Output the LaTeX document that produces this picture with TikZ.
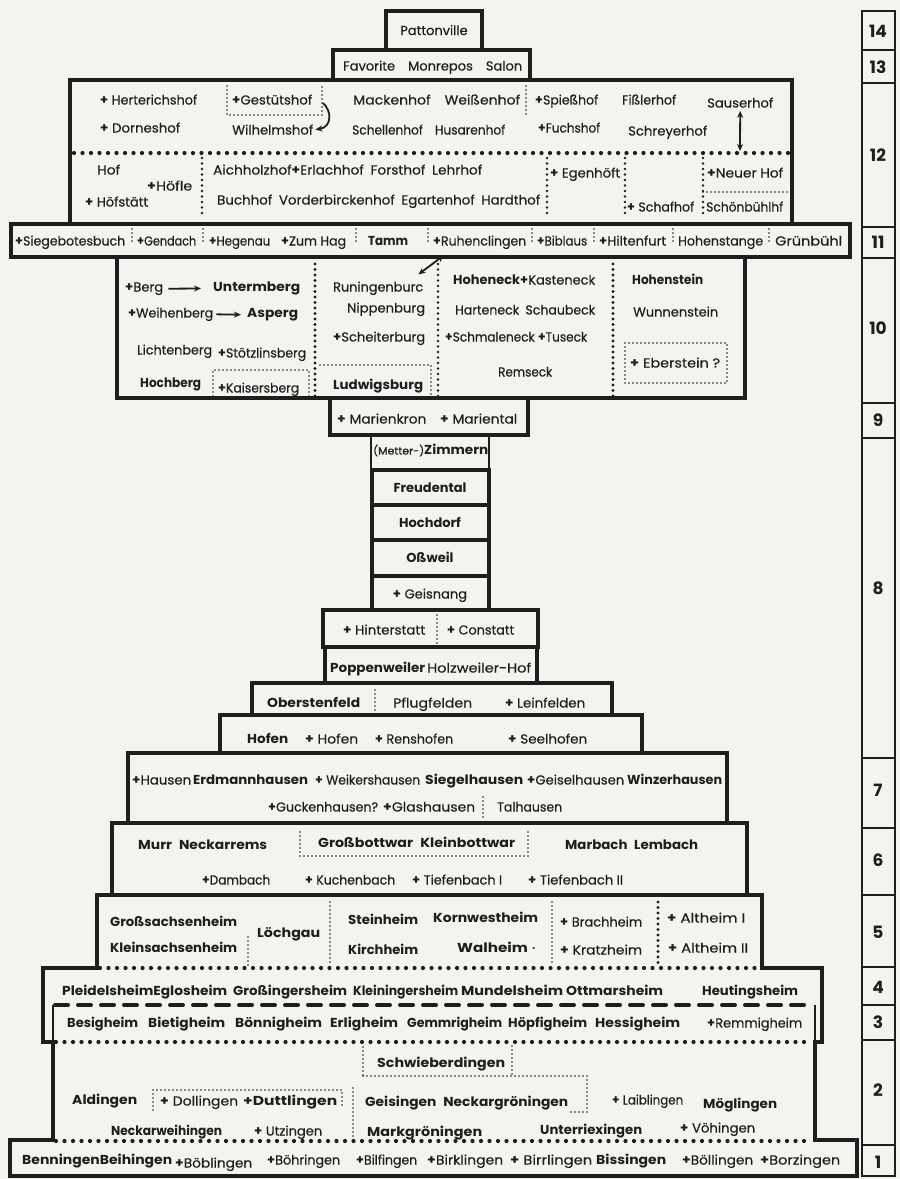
\documentclass[tikz,border=0pt]{standalone}
\usepackage{fontspec}
\setmainfont{Poppins}[UprightFeatures={FakeBold=0.4}]
\usepackage{graphicx}
\usetikzlibrary{arrows.meta}
\definecolor{paper}{RGB}{243,243,239}
\definecolor{ink}{RGB}{30,30,30}
\newcommand\wst{\textbf{+}}
\newcommand\tx[6][]{\node[txt,#1] (#2) at (#3,{#5+4.5}) {\resizebox{\dimexpr #4pt-#3pt\relax}{\height}{#6}};}
\tikzset{
 outl/.style={line width=4pt, draw=ink, line join=miter},
 thinl/.style={line width=1.8pt, draw=ink},
 colline/.style={line width=1.8pt, draw=ink},
 bigdots/.style={line width=4.2pt, draw=ink, line cap=round, dash pattern=on 0pt off 8.5pt},
 densedots/.style={line width=3.4pt, draw=ink, line cap=round, dash pattern=on 0pt off 5.5pt},
 middots/.style={line width=2.6pt, draw=ink, line cap=round, dash pattern=on 0pt off 5.5pt},
 smalldots/.style={line width=1.8pt, draw=ink, line cap=round, dash pattern=on 0pt off 4pt},
 bigdash/.style={line width=4pt, draw=ink, line cap=round, dash pattern=on 13pt off 10pt},
 txt/.style={anchor=base west, inner sep=0pt, text=ink, font=\fontsize{13}{15}\selectfont},
 ctxt/.style={anchor=base, inner sep=0pt, text=ink, font=\fontsize{13}{15}\selectfont},
 num/.style={anchor=center, inner sep=0pt, text=ink, font=\fontsize{17}{19}\selectfont\bfseries},
 arr/.style={line width=1.8pt, draw=ink, -{Stealth[length=7pt,width=6pt]}},
 dblarr/.style={line width=1.8pt, draw=ink, {Stealth[length=7pt,width=6pt]}-{Stealth[length=7pt,width=6pt]}},
}
\begin{document}
\begin{tikzpicture}[x=1pt,y=-1pt]
\fill[paper] (0,0) rectangle (900,1179);
\useasboundingbox (0,0) rectangle (900,1179);

% ---------- right column ----------
\draw[colline] (862,11) rectangle (895,1176);
\foreach \s in {50,83,227,258,403,438,758,828,895,967,1005,1040,1145}
  \draw[colline] (862,\s) -- (895,\s);
\node[num] (n14) at (878,31) {14};
\node[num] (n13) at (878,67) {13};
\node[num] (n12) at (878,155) {12};
\node[num] (n11) at (878,242) {11};
\node[num] (n10) at (878,328) {10};
\node[num] (n9) at (878,420) {9};
\node[num] (n8) at (878,588) {8};
\node[num] (n7) at (878,790) {7};
\node[num] (n6) at (878,860) {6};
\node[num] (n5) at (878,932) {5};
\node[num] (n4) at (878,987) {4};
\node[num] (n3) at (878,1022) {3};
\node[num] (n2) at (878,1090) {2};
\node[num] (n1) at (878,1162) {1};

% ---------- boxes ----------
\draw[outl] (386,11) rectangle (482,50);
\draw[outl] (333,50) rectangle (530,80);
\draw[outl] (70,80) rectangle (792,224);
\draw[outl] (11,224) rectangle (850,257);
\draw[outl] (117,257) rectangle (745,398);
\draw[outl] (330,398) rectangle (528,435);
\draw[thinl] (371,435) rectangle (489,470);
\draw[outl] (372,470) rectangle (489,610);
\draw[outl] (372,505) -- (489,505);
\draw[outl] (372,540) -- (489,540);
\draw[outl] (372,576) -- (489,576);
\draw[outl] (323,610) rectangle (538,647);
\draw[outl] (325,647) rectangle (537,683);
\draw[outl] (252,683) rectangle (612,715);
\draw[outl] (220,715) rectangle (642,753);
\draw[outl] (128,753) rectangle (727,823);
\draw[outl] (112,823) rectangle (747,895);
\draw[outl] (97,968) -- (97,895) -- (762,895) -- (762,968) -- (822,968) -- (822,1042)
  -- (815,1042) -- (815,1140) -- (857,1140) -- (857,1176) -- (10,1176) -- (10,1140)
  -- (53,1140) -- (53,1042) -- (43,1042) -- (43,968) -- cycle;
\draw[line width=2.6pt,draw=ink] (53,1005) -- (53,1042);
\draw[line width=2.6pt,draw=ink] (815,1005) -- (815,1042);

% ---------- separators ----------
\draw[bigdots] (74,153) -- (790,153);
\draw[bigdots] (100,968) -- (760,968);
\draw[bigdash] (55,1005) -- (810,1005);
\draw[bigdots] (56,1042) -- (812,1042);
\draw[bigdots] (56,1141) -- (812,1141);

% ---------- row 12 lines ----------
\draw[smalldots] (526,86) -- (526,117);
\draw[smalldots] (227,86) -- (227,115) -- (322,115) -- (322,86);
\draw[middots] (202,158) -- (202,218);
\draw[middots] (547,158) -- (547,218);
\draw[middots] (625,158) -- (625,218);
\draw[middots] (703,158) -- (703,218);
\draw[smalldots] (703,192) -- (789,192);

% ---------- row 11 marks ----------
\foreach \m in {132,203,356,428,532,594,673,769}
  \draw[smalldots] (\m,229) -- (\m,241);

% ---------- row 10 lines ----------
\draw[densedots] (315,264) -- (315,396);
\draw[middots] (438,264) -- (438,396);
\draw[densedots] (613,264) -- (613,396);
\draw[smalldots] (213,396) -- (213,370) -- (309,370) -- (309,396);
\draw[smalldots] (320,365) -- (431,365) -- (431,396);
\draw[smalldots] (625,343) rectangle (727,383);

% ---------- middle lines ----------
\draw[smalldots] (437,615) -- (437,644);
\draw[smalldots] (375,690) -- (375,712);
\draw[smalldots] (483,797) -- (483,817);
\draw[smalldots] (300,832) -- (300,856) -- (528,856) -- (528,832);
\draw[smalldots] (248,937) -- (248,965);
\draw[smalldots] (330,902) -- (330,964);
\draw[smalldots] (552,902) -- (552,962);
\draw[densedots] (658,902) -- (658,964);

% ---------- row 2 lines ----------
\draw[smalldots] (363,1047) -- (363,1075);
\draw[smalldots] (512,1046) -- (512,1075);
\draw[smalldots] (363,1076) -- (587,1076) -- (587,1112) -- (568,1112);
\draw[smalldots] (153,1110) -- (153,1090) -- (342,1090) -- (342,1105);
\draw[smalldots] (353,1088) -- (353,1138);

% ---------- texts ----------
\node[ctxt] (pat) at (434,35) {Pattonville};
\tx{fav}{343}{522}{66}{Favorite\quad Monrepos\quad Salon}

\tx{herter}{100}{197}{100}{\wst\ Herterichshof}
\tx{gest}{232}{312}{100}{\wst Gestütshof}
\tx{mack}{353}{520}{100}{Mackenhof\quad Weißenhof}
\tx{spiess}{535}{598}{100}{\wst Spießhof}
\tx{fissl}{622}{676}{100}{Fißlerhof}
\tx{sauser}{707}{773}{103}{Sauserhof}
\tx{dorn}{100}{180}{128}{\wst\ Dorneshof}
\tx{wilh}{232}{313}{130}{Wilhelmshof}
\tx{schell}{352}{505}{130}{Schellenhof\quad Husarenhof}
\tx{fuchs}{538}{600}{128}{\wst Fuchshof}
\tx{schrey}{628}{707}{131}{Schreyerhof}
\tx{hof}{97}{120}{170}{Hof}
\tx{hoefle}{147}{192}{186}{\wst Höfle}
\tx{hoefst}{85}{148}{202}{\wst\ Höfstätt}
\tx{aich}{213}{482}{170}{Aichholzhof\wst Erlachhof\enspace Forsthof\enspace Lehrhof}
\tx{buch}{217}{540}{200}{Buchhof\enspace Vorderbirckenhof\enspace Egartenhof\enspace Hardthof}
\tx{egen}{550}{620}{173}{\wst\ Egenhöft}
\tx{neuer}{707}{783}{173}{\wst Neuer Hof}
\tx{schaf}{627}{694}{207}{\wst\ Schafhof}
\tx{schoen}{706}{783}{207}{Schönbühlhf}

\tx{sieg}{15}{125}{241}{\wst Siegebotesbuch}
\tx{gend}{137}{196}{241}{\wst Gendach}
\tx{hege}{209}{270}{241}{\wst Hegenau}
\tx{zum}{281}{346}{241}{\wst Zum Hag}
\tx{tamm}{368}{408}{241}{\textbf{Tamm}}
\tx{ruhen}{433}{526}{241}{\wst Ruhenclingen}
\tx{bibl}{537}{587}{241}{\wst Biblaus}
\tx{hilt}{599}{666}{241}{\wst Hiltenfurt}
\tx{hohst}{678}{763}{241}{Hohenstange}
\tx{gruen}{775}{842}{241}{Grünbühl}

\tx{berg}{125}{163}{287}{\wst Berg}
\tx{unter}{213}{300}{287}{\textbf{Untermberg}}
\tx{runing}{333}{423}{287}{Runingenburc}
\tx{weih}{128}{213}{313}{\wst Weihenberg}
\tx{asp}{247}{298}{313}{\textbf{Asperg}}
\tx{nipp}{347}{425}{308}{Nippenburg}
\tx{licht}{137}{212}{350}{Lichtenberg}
\tx{stoetz}{218}{306}{353}{\wst Stötzlinsberg}
\tx{scheit}{333}{425}{337}{\wst Scheiterburg}
\tx{hochb}{140}{201}{383}{\textbf{Hochberg}}
\tx{kais}{218}{299}{388}{\wst Kaisersberg}
\tx{ludw}{333}{423}{385}{\textbf{Ludwigsburg}}
\tx{hohen}{453}{595}{280}{\textbf{Hoheneck}\wst Kasteneck}
\tx{hart}{455}{595}{310}{Harteneck\enspace Schaubeck}
\tx{schmal}{445}{587}{337}{\wst Schmaleneck \wst Tuseck}
\tx{rems}{498}{552}{372}{Remseck}
\tx{hstein}{632}{703}{280}{\textbf{Hohenstein}}
\tx{wunn}{633}{718}{312}{Wunnenstein}
\tx{eber}{630}{720}{363}{\wst\ Eberstein ?}

\tx{marien}{337}{517}{419}{\wst\ Marienkron\quad\wst\ Mariental}
\tx{zimm}{373}{488}{450}{{\fontsize{10.5}{12}\selectfont(Metter-)}\textbf{Zimmern}}
\node[ctxt,font=\fontsize{13}{15}\selectfont\bfseries] (freud) at (430,492.5) {Freudental};
\node[ctxt,font=\fontsize{13}{15}\selectfont\bfseries] (hochd) at (430,527.5) {Hochdorf};
\node[ctxt,font=\fontsize{13}{15}\selectfont\bfseries] (ossw) at (430,562.5) {Oßweil};
\node[ctxt] (geisn) at (430,598.5) {\wst\ Geisnang};
\tx{hinter}{343}{425}{630}{\wst\ Hinterstatt}
\tx{const}{447}{514}{630}{\wst\ Constatt}
\tx{poppen}{330}{425}{668}{\textbf{Poppenweiler}}
\tx{holzw}{427}{531}{668}{Holzweiler-Hof}
\tx{oberst}{267}{360}{703}{\textbf{Oberstenfeld}}
\tx{pflug}{393}{472}{703}{Pflugfelden}
\tx{leinf}{505}{585}{703}{\wst\ Leinfelden}
\tx{hofenb}{247}{288}{739}{\textbf{Hofen}}
\tx{hofen}{305}{358}{739}{\wst\ Hofen}
\tx{rensh}{375}{453}{739}{\wst\ Renshofen}
\tx{seelh}{508}{587}{739}{\wst\ Seelhofen}

\tx{hausen}{132}{191}{780}{\wst Hausen}
\tx{erdm}{193}{308}{780}{\textbf{Erdmannhausen}}
\tx{weik}{315}{420}{780}{\wst\ Weikershausen}
\tx{siegel}{425}{523}{780}{\textbf{Siegelhausen}}
\tx{geisel}{527}{624}{780}{\wst Geiselhausen}
\tx{winz}{627}{722}{780}{\textbf{Winzerhausen}}
\tx{guck}{268}{378}{807}{\wst Guckenhausen?}
\tx{glas}{383}{475}{807}{\wst Glashausen}
\tx{talh}{497}{562}{807}{Talhausen}

\tx{murr}{138}{267}{845}{\textbf{Murr\enspace Neckarrems}}
\tx{grossb}{318}{515}{843}{\textbf{Großbottwar\enspace Kleinbottwar}}
\tx{marb}{565}{698}{845}{\textbf{Marbach\enspace Lembach}}
\tx{damb}{202}{270}{880}{\wst Dambach}
\tx{kuch}{305}{395}{880}{\wst\ Kuchenbach}
\tx{tief1}{412}{502}{880}{\wst\ Tiefenbach I}
\tx{tief2}{528}{623}{880}{\wst\ Tiefenbach II}

\tx{grsach}{110}{237}{922}{\textbf{Großsachsenheim}}
\tx{klsach}{110}{237}{948}{\textbf{Kleinsachsenheim}}
\tx{loech}{257}{320}{933}{\textbf{Löchgau}}
\tx{stein}{348}{418}{920}{\textbf{Steinheim}}
\tx{kirch}{348}{418}{950}{\textbf{Kirchheim}}
\tx{kornw}{433}{538}{918}{\textbf{Kornwestheim}}
\tx{walh}{457}{535}{948}{\textbf{Walheim}\ ·}
\tx{brach}{560}{642}{922}{\wst\ Brachheim}
\tx{kratz}{560}{642}{950}{\wst\ Kratzheim}
\tx{alt1}{667}{745}{918}{\wst\ Altheim I}
\tx{alt2}{668}{748}{948}{\wst\ Altheim II}

\tx{pleid}{62}{227}{991}{\textbf{PleidelsheimEglosheim}}
\tx{grossi}{233}{347}{991}{\textbf{Großingersheim}}
\tx{kleini}{353}{458}{991}{\textbf{Kleiningersheim}}
\tx{mund}{461}{563}{991}{\textbf{Mundelsheim}}
\tx{ottm}{566}{663}{991}{\textbf{Ottmarsheim}}
\tx{heut}{702}{798}{991}{\textbf{Heutingsheim}}

\tx{besig}{67}{138}{1023}{\textbf{Besigheim}}
\tx{bietig}{148}{225}{1023}{\textbf{Bietigheim}}
\tx{boenn}{235}{322}{1023}{\textbf{Bönnigheim}}
\tx{erlig}{330}{398}{1023}{\textbf{Erligheim}}
\tx{gemm}{407}{502}{1023}{\textbf{Gemmrigheim}}
\tx{hoepf}{508}{587}{1023}{\textbf{Höpfigheim}}
\tx{hessig}{595}{680}{1023}{\textbf{Hessigheim}}
\tx{remm}{707}{802}{1023}{\wst Remmigheim}

\tx{schwieb}{377}{505}{1063}{\textbf{Schwieberdingen}}
\tx{ald}{72}{137}{1100}{\textbf{Aldingen}}
\tx{doll}{160}{238}{1101}{\wst\ Dollingen}
\tx{dutt}{243}{337}{1101}{\wst\textbf{Duttlingen}}
\tx{geis}{365}{568}{1102}{\textbf{Geisingen\enspace Neckargröningen}}
\tx{laib}{612}{683}{1100}{\wst\ Laiblingen}
\tx{moeg}{703}{777}{1104}{\textbf{Möglingen}}
\tx{neckw}{111}{222}{1131}{\textbf{Neckarweihingen}}
\tx{utz}{254}{322}{1131}{\wst\ Utzingen}
\tx{markg}{367}{482}{1132}{\textbf{Markgröningen}}
\tx{unterr}{540}{642}{1130}{\textbf{Unterriexingen}}
\tx{voeh}{680}{755}{1128}{\wst\ Vöhingen}

\tx{benn}{22}{172}{1160}{\textbf{BenningenBeihingen}}
\tx{boebl}{175}{252}{1163}{\wst Böblingen}
\tx{boehr}{267}{340}{1160}{\wst Böhringen}
\tx{bilf}{356}{417}{1160}{\wst Bilfingen}
\tx{birk}{427}{503}{1160}{\wst Birklingen}
\tx{birr}{510}{592}{1160}{\wst\ Birrlingen}
\tx{biss}{596}{666}{1160}{\textbf{Bissingen}}
\tx{boell}{682}{753}{1160}{\wst Böllingen}
\tx{borz}{760}{840}{1160}{\wst Borzingen}

% ---------- connectors ----------
\draw[arr] ([xshift=5pt]berg.east) -- ([xshift=-12pt]unter.west);
\draw[arr] ([xshift=3pt]weih.east) -- ([xshift=-6pt]asp.west);
\draw[dblarr] ([xshift=11pt,yshift=-6pt]ruhen.south west) -- ([xshift=-5pt,yshift=7pt]runing.north east);
\coordinate (sline) at (740,151);
\draw[dblarr] ([yshift=-3pt]sauser.south) -- (sline);
\coordinate (gtop) at (323,103);
\draw[arr] (gtop) .. controls (332,111) and (332,127) .. ([xshift=2pt]wilh.east);
\end{tikzpicture}
\end{document}
